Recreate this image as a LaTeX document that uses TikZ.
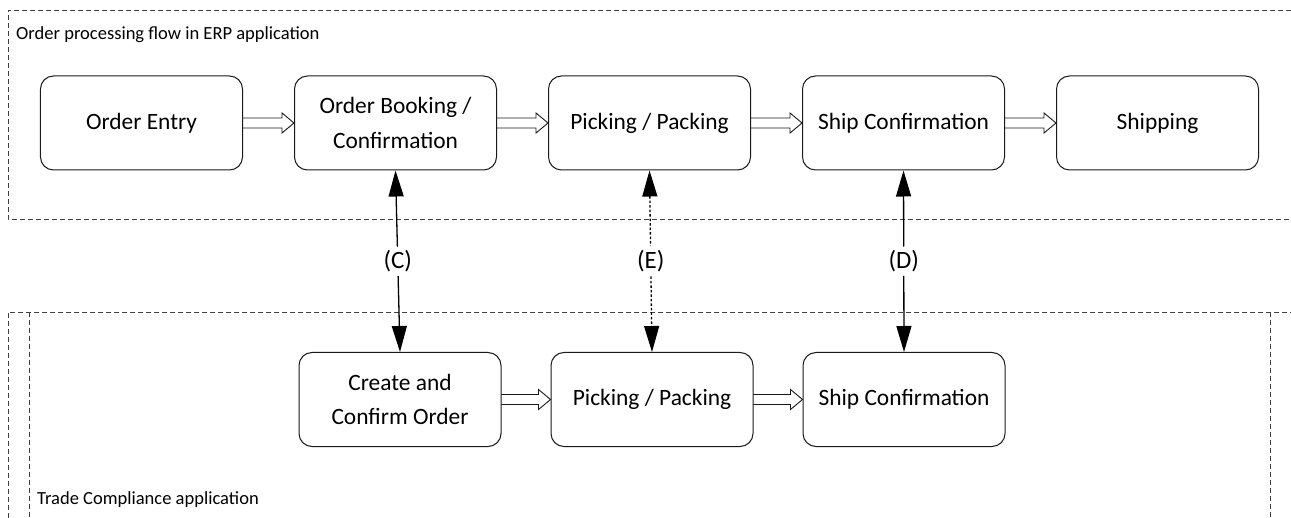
\documentclass[tikz,border=0pt]{standalone}
\usepackage{fontspec}
\setmainfont{Carlito}
\usetikzlibrary{arrows.meta,positioning,calc}
\begin{document}
\begin{tikzpicture}[x=1bp, y=-1bp, line join=round, line cap=round,
	>={Triangle[length=26bp,width=15bp]},
	stage/.style={draw=black!90, line width=1bp, rounded corners=13bp, minimum width=202bp, minimum height=94bp, align=center, font=\fontsize{23.5}{35}\selectfont},
	lane/.style={draw=black!75, line width=0.9bp, line cap=butt, dash pattern=on 5bp off 3bp},
	title/.style={anchor=base west, inner sep=0pt, font=\fontsize{18.6}{22}\selectfont},
	tag/.style={font=\fontsize{25}{30}\selectfont, inner sep=4bp},
	link/.style={line width=1.3bp},
	flow/.style={draw=black!90, line width=0.9bp, line join=miter,
		to path={let \p1=(\tikztostart), \p2=(\tikztotarget) in
			(\x1,\y1-5bp) -- (\x2-12bp,\y1-5bp) -- (\x2-12bp,\y1-10bp) -- (\x2,\y1)
			-- (\x2-12bp,\y1+10bp) -- (\x2-12bp,\y1+5bp) -- (\x1,\y1+5bp)}}]
	\def\gap{51bp} \def\gapb{49bp} % space between stages
	\useasboundingbox (0,0) rectangle (1291,518);
	% swimlanes
	\draw[lane] (1291,10) -| (8,219) -- (1291,219);
	\draw[lane] (8,518) |- (1291,312) (29,312) -- (29,518) (1270,312) -- (1270,518);
	\node[title] (erp) at (16,40) {Order processing flow in ERP application};
	\node[title] (tca) at (37,504) {Trade Compliance application};
	% ERP stages
	\node[stage] (entry) at (141.5,123) {Order Entry};
	\node[stage, right=\gap of entry] (booking) {Order Booking /\\Confirmation};
	\node[stage, right=\gap of booking] (pick) {Picking / Packing};
	\node[stage, right=\gap of pick] (shipconf) {Ship Confirmation};
	\node[stage, right=\gap of shipconf] (ship) {Shipping};
	% trade compliance stages
	\node[stage] (create) at (400,399.5) {Create and\\Confirm Order};
	\node[stage, right=\gapb of create] (tcpick) {Picking / Packing};
	\node[stage, right=\gapb of tcpick] (tcship) {Ship Confirmation};
	\draw[flow] (entry.east) to (booking.west);
	\draw[flow] (booking.east) to (pick.west);
	\draw[flow] (pick.east) to (shipconf.west);
	\draw[flow] (shipconf.east) to (ship.west);
	\draw[flow] (create.east) to (tcpick.west);
	\draw[flow] (tcpick.east) to (tcship.west);
	% interfaces between the two applications
	\path (booking.south) -- (create.north) node[tag, midway] (tagC) {(C)};
	\path (pick.south) -- (tcpick.north) node[tag, midway] (tagE) {(E)};
	\path (shipconf.south) -- (tcship.north) node[tag, midway] (tagD) {(D)};
	\draw[link,<-] (booking.south) -- (tagC);
	\draw[link,->] (tagC) -- (create.north);
	\draw[link,<-,line cap=butt,dash pattern=on 2.5bp off 2bp] (pick.south) -- (tagE);
	\draw[link,->,line cap=butt,dash pattern=on 2.5bp off 2bp] (tagE) -- (tcpick.north);
	\draw[link,<-] (shipconf.south) -- (tagD);
	\draw[link,->] (tagD) -- (tcship.north);
\end{tikzpicture}
\end{document}
